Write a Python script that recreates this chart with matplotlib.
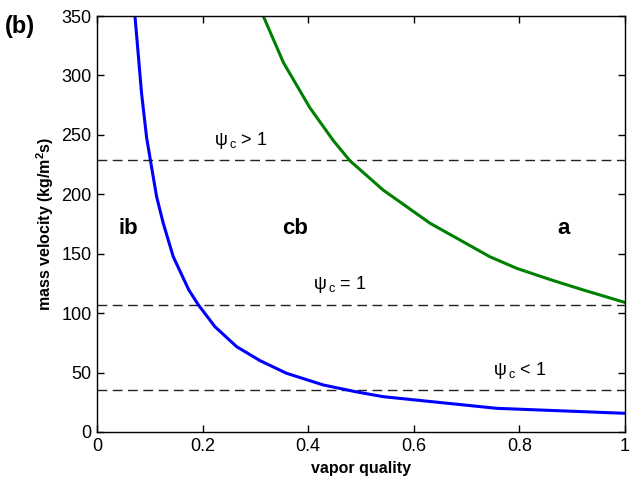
import matplotlib.pyplot as plt

plt.rcParams['font.family'] = ['Liberation Sans', 'DejaVu Sans']
plt.rcParams['mathtext.fontset'] = 'custom'
plt.rcParams['mathtext.rm'] = 'Liberation Sans'
plt.rcParams['mathtext.bf'] = 'Liberation Sans:bold'

# boundary ib/cb
x_ib = [0.072, 0.0845, 0.094, 0.1015, 0.113, 0.1256, 0.1445, 0.174, 0.192,
        0.2235, 0.2645, 0.309, 0.359, 0.429, 0.492, 0.542, 0.757, 1.0]
g_ib = [350, 285, 248, 228, 198, 175.6, 147.5, 119.5, 107, 88.6, 71.8, 60,
        49.4, 39.5, 33.7, 29.7, 19.9, 15.7]

# boundary cb/a
x_a = [0.315, 0.353, 0.403, 0.448, 0.479, 0.542, 0.631, 0.744, 0.795,
       0.86, 0.921, 1.0]
g_a = [350, 311, 273, 245, 228.3, 203.6, 175.6, 147.5, 137.7, 128, 119.5,
       109]

# psi_c levels
psi_levels = [228.8, 107, 35]
psi_labels = [r'$\mathregular{ψ_{\,c}}$ > 1', r'$\mathregular{ψ_{\,c}}$ = 1',
              r'$\mathregular{ψ_{\,c}}$ < 1']
psi_label_x = [0.272, 0.46, 0.80]

regions = ['ib', 'cb', 'a']
region_x = [0.059, 0.375, 0.883]
region_y = 171

fig = plt.figure(figsize=(6.42, 4.87), dpi=100)
ax = fig.add_axes([0.151, 0.113, 0.8225, 0.854])

for lev, lab, lx in zip(psi_levels, psi_labels, psi_label_x):
    ax.axhline(lev, color='#222222', lw=1.0, ls=(0, (7, 4)))
    ax.text(lx, lev + 8, lab, fontsize=13, ha='center', va='bottom')

ax.plot(x_ib, g_ib, color='#0000ff', lw=2.2)
ax.plot(x_a, g_a, color='#008000', lw=2.2)

for r, rx in zip(regions, region_x):
    ax.text(rx, region_y, r, fontsize=16, fontweight='bold',
            ha='center', va='center')

ax.set_xlim(0, 1)
ax.set_ylim(0, 350)
ax.set_xticks([0, 0.2, 0.4, 0.6, 0.8, 1])
ax.set_xticklabels(['0', '0.2', '0.4', '0.6', '0.8', '1'])
ax.set_yticks(range(0, 351, 50))
ax.tick_params(direction='in', top=True, right=True, length=5, width=1,
               labelsize=13, pad=4)
for s in ax.spines.values():
    s.set_linewidth(1.0)

ax.set_xlabel('vapor quality', fontsize=11.5, fontweight='bold', labelpad=5)
ax.set_ylabel(r'mass velocity (kg/m$^\mathbf{2}$s)', fontsize=11.5,
              fontweight='bold', labelpad=4)

fig.text(0.008, 0.945, '(b)', fontsize=17, fontweight='bold',
         ha='left', va='center')

fig.savefig('out.png', dpi=100)
